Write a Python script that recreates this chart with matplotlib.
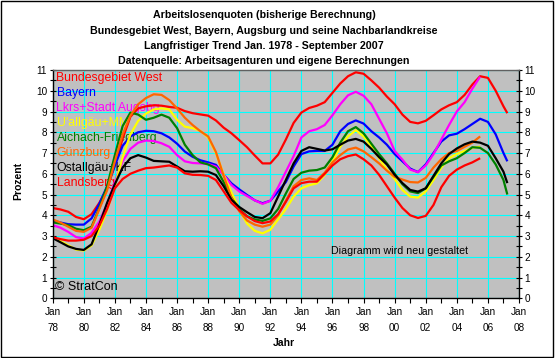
import numpy as np
import matplotlib
matplotlib.use('Agg')
import matplotlib.pyplot as plt
from matplotlib.patches import Rectangle
from matplotlib.ticker import MultipleLocator

plt.rcParams['font.family'] = ['Liberation Sans', 'DejaVu Sans']

# half-year sample points (Jan / Jul), last point early 2007
years = list(np.arange(1978.0, 2007.01, 0.5)) + [2007.25]

bundesgebiet_west = [4.35, 4.28, 4.17, 3.92, 3.81, 4.05, 4.6, 5.3, 6.4, 7.7,
                     8.75, 9.15, 9.25, 9.3, 9.28, 9.22, 9.18, 9.02, 8.92, 8.86,
                     8.8, 8.57, 8.22, 7.95, 7.62, 7.28, 6.88, 6.5, 6.5, 6.92,
                     7.65, 8.45, 8.95, 9.17, 9.28, 9.45, 9.9, 10.35, 10.7, 10.89,
                     10.82, 10.5, 10.15, 9.72, 9.35, 8.85, 8.5, 8.43, 8.55, 8.82,
                     9.1, 9.3, 9.45, 9.8, 10.3, 10.7, 10.62, 10.0, 9.25, 8.92]
bayern = [3.75, 3.65, 3.57, 3.55, 3.55, 3.85, 4.55, 5.4, 6.4, 7.35,
          7.8, 8.0, 8.07, 8.05, 7.95, 7.75, 7.45, 7.07, 6.82, 6.65,
          6.55, 6.43, 5.95, 5.54, 5.25, 4.98, 4.72, 4.58, 4.7, 5.15,
          5.6, 6.35, 6.95, 7.08, 7.1, 7.1, 7.4, 8.05, 8.4, 8.57,
          8.42, 8.05, 7.75, 7.4, 6.95, 6.6, 6.25, 6.08, 6.45, 7.0,
          7.55, 7.85, 7.93, 8.15, 8.4, 8.65, 8.5, 7.9, 7.0, 6.6]
augsburg = [3.53, 3.4, 3.2, 2.95, 2.88, 3.15, 3.7, 4.55, 5.6, 6.6,
            7.2, 7.5, 7.6, 7.58, 7.47, 7.3, 6.9, 6.6, 6.52, 6.5,
            6.47, 6.35, 5.95, 5.46, 5.15, 4.93, 4.72, 4.55, 4.7, 5.35,
            6.1, 6.85, 7.75, 8.05, 8.15, 8.35, 8.82, 9.35, 9.78, 9.95,
            9.76, 9.35, 8.65, 7.95, 7.1, 6.68, 6.2, 6.08, 6.4, 6.95,
            7.65, 8.35, 9.0, 9.45, 10.1, 10.68, None, None, None, None]
uallgaeu_mm = [2.94, 2.75, 2.55, 2.35, 2.3, 2.55, 3.3, 4.25, 5.4, 6.8,
               7.9, 8.55, 8.9, 9.1, 9.15, 9.1, 8.6, 8.27, 8.2, 8.07,
               7.75, 7.0, 5.95, 5.1, 4.3, 3.6, 3.25, 3.13, 3.3, 3.8,
               4.3, 4.9, 5.3, 5.45, 5.54, 5.95, 6.6, 7.3, 7.8, 8.1,
               7.8, 7.3, 6.75, 6.2, 5.75, 5.22, 4.9, 4.85, 5.15, 5.7,
               6.3, 6.75, 6.95, 7.1, 7.25, 7.3, None, None, None, None]
aichach = [3.66, 3.6, 3.53, 3.35, 3.28, 3.45, 4.35, 5.4, 6.9, 8.3,
           8.95, 8.85, 8.6, 8.7, 8.85, 8.7, 8.2, 7.4, 6.9, 6.55,
           6.45, 6.27, 5.6, 4.85, 4.3, 3.95, 3.8, 3.73, 3.85, 4.3,
           5.05, 5.75, 6.05, 6.15, 6.18, 6.3, 6.8, 7.5, 8.05, 8.25,
           7.95, 7.45, 6.95, 6.5, 6.0, 5.5, 5.15, 5.07, 5.3, 5.85,
           6.4, 6.6, 6.75, 7.0, 7.28, 7.25, 7.0, 6.45, 5.7, 5.0]
guenzburg = [3.8, 3.65, 3.45, 3.25, 3.2, 3.4, 4.3, 5.2, 6.6, 7.9,
             8.8, 9.35, 9.65, 9.83, 9.8, 9.55, 9.15, 8.7, 8.35, 8.05,
             7.8, 7.05, 5.9, 4.85, 4.2, 3.75, 3.55, 3.45, 3.55, 4.0,
             4.7, 5.4, 5.7, 5.78, 5.7, 6.05, 6.55, 6.9, 7.17, 7.26,
             7.08, 6.8, 6.5, 6.15, 5.85, 5.72, 5.6, 5.58, 5.8, 6.3,
             6.7, 7.0, 7.1, 7.3, 7.5, 7.8, None, None, None, None]
ostallgaeu = [2.9, 2.7, 2.5, 2.38, 2.33, 2.6, 3.55, 4.6, 5.5, 6.3,
              6.75, 6.9, 6.78, 6.62, 6.6, 6.58, 6.35, 6.12, 6.1, 6.12,
              6.1, 5.94, 5.4, 4.75, 4.4, 4.15, 3.92, 3.86, 4.1, 4.9,
              5.7, 6.5, 7.1, 7.28, 7.2, 7.12, 7.18, 7.4, 7.6, 7.68,
              7.55, 7.2, 6.8, 6.45, 5.95, 5.55, 5.22, 5.14, 5.3, 5.9,
              6.5, 6.95, 7.22, 7.42, 7.55, 7.5, 7.35, 6.75, 6.1, 5.55]
landsberg = [2.94, 2.85, 2.78, 2.78, 2.82, 3.0, 3.5, 4.3, 5.3, 5.75,
             6.0, 6.15, 6.27, 6.3, 6.35, 6.4, 6.3, 6.02, 5.95, 5.94,
             5.9, 5.7, 5.15, 4.6, 4.25, 3.95, 3.72, 3.62, 3.7, 4.05,
             4.65, 5.3, 5.55, 5.62, 5.62, 6.0, 6.4, 6.7, 6.85, 6.93,
             6.7, 6.4, 5.95, 5.4, 4.85, 4.35, 4.0, 3.87, 3.97, 4.5,
             5.35, 5.9, 6.2, 6.4, 6.55, 6.75, None, None, None, None]

series_names = ["Bundesgebiet West", "Bayern", "Lkrs+Stadt Augsbg", "U'allgäu+MM",
                "Aichach-Friedberg", "Günzburg", "Ostallgäu+KF", "Landsberg"]
series_values = [bundesgebiet_west, bayern, augsburg, uallgaeu_mm,
                 aichach, guenzburg, ostallgaeu, landsberg]
series_colors = ["#FF0000", "#0000FF", "#FF00FF", "#FFFF00",
                 "#008000", "#FF6600", "#000000", "#FF0000"]

title_lines = ["Arbeitslosenquoten (bisherige Berechnung)",
               "Bundesgebiet West, Bayern, Augsburg und seine Nachbarlandkreise",
               "Langfristiger Trend Jan. 1978 - September 2007",
               "Datenquelle: Arbeitsagenturen und eigene Berechnungen"]
x_tick_years = list(range(1978, 2009, 2))
x_tick_labels = ["Jan\n%02d" % (y % 100) for y in x_tick_years]

W, H = 556, 358
fig = plt.figure(figsize=(W / 100, H / 100), dpi=100)
fig.patch.set_facecolor('white')

x0, x1, ytop, ybot = 52.7, 519.0, 70.0, 298.3
ax = fig.add_axes([x0 / W, 1 - ybot / H, (x1 - x0) / W, (ybot - ytop) / H])
ax.set_facecolor('#C0C0C0')
ax.set_xlim(1978, 2008)
ax.set_ylim(0, 11)
ax.set_axisbelow(True)

ax.xaxis.set_major_locator(MultipleLocator(2))
ax.xaxis.set_minor_locator(MultipleLocator(1))
ax.yaxis.set_major_locator(MultipleLocator(1))
ax.yaxis.set_minor_locator(MultipleLocator(0.5))
ax.grid(True, which='major', color='#00FFFF', linewidth=0.8)

ax.set_xticks(x_tick_years)
ax.set_xticklabels(x_tick_labels, fontsize=7.2)
for t in ax.get_xticklabels():
    t.set_linespacing(1.85)
ax.tick_params(axis='x', which='both', direction='out', length=3.5, width=0.8,
               pad=2.5, colors='black')
ax.tick_params(axis='y', which='both', direction='inout', length=4, width=0.8,
               left=True, right=True, labelleft=True, labelright=True,
               labelsize=7.2, pad=2)
ax.set_yticks(range(0, 12))

for side in ['left', 'bottom', 'right']:
    ax.spines[side].set_color('black')
    ax.spines[side].set_linewidth(1.0)
ax.spines['top'].set_color('#606060')
ax.spines['top'].set_linewidth(1.0)

yrs = np.array(years, dtype=float)
for name, vals, col in zip(series_names, series_values, series_colors):
    v = np.array([np.nan if a is None else a for a in vals], dtype=float)
    ax.plot(yrs, v, color=col, linewidth=1.6, zorder=2, solid_capstyle='butt')

# legend as coloured texts
for i, (name, col) in enumerate(zip(series_names, series_colors)):
    ypix = 78.3 + 15.0 * i
    ax.text((56.5 - x0) / (x1 - x0), (ybot - ypix) / (ybot - ytop), name,
            transform=ax.transAxes, color=col, fontsize=8.8, va='center',
            ha='left', zorder=1.5)

ax.text((55 - x0) / (x1 - x0), (ybot - 286.5) / (ybot - ytop), "© StratCon",
        transform=ax.transAxes, color='black', fontsize=9.0, va='center',
        ha='left', zorder=1.5)
ax.text((331 - x0) / (x1 - x0), (ybot - 251.5) / (ybot - ytop),
        "Diagramm wird neu gestaltet", transform=ax.transAxes, color='black',
        fontsize=7.7, va='center', ha='left', zorder=1.5)

for i, line in enumerate(title_lines):
    fig.text(264 / W, 1 - (15.5 + 15.2 * i) / H, line, ha='center', va='center',
             fontsize=7.7, fontweight='bold', color='black')

fig.text(284 / W, 1 - 343 / H, "Jahr", ha='center', va='center',
         fontsize=7.5, fontweight='bold')
fig.text(18.5 / W, 1 - 181 / H, "Prozent", ha='center', va='center',
         rotation=90, fontsize=7.5, fontweight='bold')

fig.patches.append(Rectangle((0.5 / W, 1 - 356.5 / H), 552 / W, 356 / H,
                             transform=fig.transFigure, fill=False,
                             edgecolor='black', linewidth=1.0))

fig.savefig('out.png', dpi=100, facecolor='white')
